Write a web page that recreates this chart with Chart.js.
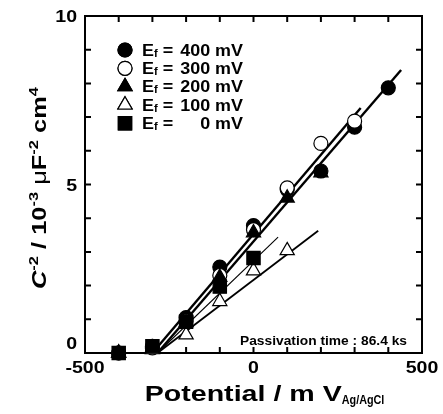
<!DOCTYPE html>
<html><head><meta charset="utf-8">
<script src="https://cdn.jsdelivr.net/npm/chart.js@4.4.1/dist/chart.umd.min.js"></script>
<style>html,body{margin:0;padding:0;background:#fff;}canvas{display:block;}</style>
</head><body>
<canvas id="c" width="443" height="414"></canvas>
<script>
// ---- data ----
const potentials = [-400, -300, -200, -100, 0, 100, 200, 300, 400];
const ef400 = [0, 0.2, 1.05, 2.55, 3.78, 4.85, 5.4, 6.7, 7.87];
const ef300 = [0, 0.15, 0.95, 2.3, 3.66, 4.9, 6.22, 6.88];
const ef200 = [0, 0.15, 0.9, 2.25, 3.57, 4.6, 5.35];
const ef100 = [0, 0.1, 0.54, 1.53, 2.44, 3.04];
const ef0 = [0, 0.2, 0.93, 1.97, 2.82];
const fit400X = [-285, 438], fit400Y = [0, 8.4];
const fit300X = [-300, 318], fit300Y = [0, 7.27];
const fit100X = [-285, 192], fit100Y = [0, 3.63];
const fit0X = [-285, 73], fit0Y = [0, 3.44];
const xTickLabels = [-500, 0, 500];
const yTickLabels = [0, 5, 10];
const xMinorTicks = [-500, -400, -300, -200, -100, 0, 100, 200, 300, 400, 500];
const yMinorTicks = [0, 1, 2, 3, 4, 5, 6, 7, 8, 9, 10];
const legendValues = ['400', '300', '200', '100', '0'];
const noteText = 'Passivation time : 86.4 ks';

function pts(xs, ys) { return ys.map((y, i) => ({ x: xs[i], y: y })); }

const FONT = '"Liberation Sans", Arial, Helvetica, sans-serif';

const markerStyles = [
  { style: 'circle', r: 7, fill: '#000' },
  { style: 'circle', r: 7, fill: '#fff' },
  { style: 'triangle', r: 8.2, fill: '#000' },
  { style: 'triangle', r: 8.2, fill: '#fff' },
  { style: 'rect', r: 9.4, fill: '#000' }
];
const seriesData = [ef400, ef300, ef200, ef100, ef0];

const datasets = [];
[[fit400X, fit400Y, 2.4], [fit300X, fit300Y, 2.4], [fit100X, fit100Y, 1.8], [fit0X, fit0Y, 1.1]].forEach((f, i) => {
  datasets.push({
    data: pts(f[0], f[1]), showLine: true, borderColor: '#000', borderWidth: f[2],
    pointRadius: 0, order: 20 + i, clip: false
  });
});
seriesData.forEach((s, i) => {
  const m = markerStyles[i];
  datasets.push({
    data: pts(potentials, s), showLine: false, pointStyle: m.style, pointRadius: m.r,
    pointBackgroundColor: m.fill, pointBorderColor: '#000', pointBorderWidth: 1.2,
    order: 10 - i, clip: false
  });
});

function drawStretched(ctx, s, x, y, font, sx) {
  ctx.font = font;
  const w = ctx.measureText(s).width * sx;
  ctx.save(); ctx.translate(x, y); ctx.scale(sx, 1); ctx.fillText(s, 0, 0); ctx.restore();
  return w;
}
function measureStretched(ctx, s, font, sx) { ctx.font = font; return ctx.measureText(s).width * sx; }
function drawRich(ctx, segs, x, y, sx) {
  let cx = x;
  segs.forEach(sg => { cx += drawStretched(ctx, sg.t, cx, y + (sg.dy || 0), sg.f, sx); });
  return cx - x;
}
function richWidth(ctx, segs, sx) { return segs.reduce((a, sg) => a + measureStretched(ctx, sg.t, sg.f, sx), 0); }

const decor = {
  id: 'decor',
  beforeDatasetsDraw(chart) {
    const ctx = chart.ctx, a = chart.chartArea, xs = chart.scales.x, ys = chart.scales.y;
    ctx.save();
    ctx.strokeStyle = '#000'; ctx.lineWidth = 2;
    ctx.strokeRect(a.left, a.top, a.right - a.left, a.bottom - a.top);
    ctx.beginPath();
    const tl = 6;
    xMinorTicks.forEach(v => {
      const px = xs.getPixelForValue(v);
      ctx.moveTo(px, a.bottom); ctx.lineTo(px, a.bottom - tl);
      ctx.moveTo(px, a.top); ctx.lineTo(px, a.top + tl);
    });
    yMinorTicks.forEach(v => {
      const py = ys.getPixelForValue(v);
      ctx.moveTo(a.left, py); ctx.lineTo(a.left + tl, py);
      ctx.moveTo(a.right, py); ctx.lineTo(a.right - tl, py);
    });
    ctx.stroke();
    ctx.restore();
  },
  afterDraw(chart) {
    const ctx = chart.ctx, a = chart.chartArea, xs = chart.scales.x, ys = chart.scales.y;
    ctx.save();
    ctx.fillStyle = '#000';
    ctx.textBaseline = 'alphabetic';
    const tickFont = 'bold 17px ' + FONT, tsx = 1.15, cap = 12.2;
    yTickLabels.forEach(v => {
      const s = String(v);
      const w = measureStretched(ctx, s, tickFont, tsx);
      let cy = ys.getPixelForValue(v);
      cy = Math.min(cy, a.bottom - 10);
      drawStretched(ctx, s, a.left - 8 - w, cy + cap / 2, tickFont, tsx);
    });
    xTickLabels.forEach(v => {
      const s = String(v);
      const w = measureStretched(ctx, s, tickFont, tsx);
      const cx = xs.getPixelForValue(v);
      drawStretched(ctx, s, cx - w / 2, a.bottom + 20, tickFont, tsx);
    });
    // x title
    const mainT = 'Potential / m V', mainF = 'bold 22px ' + FONT, msx = 1.3;
    const subT = 'Ag/AgCl', subF = 'bold 12px ' + FONT, ssx = 0.9;
    const mainW = measureStretched(ctx, mainT, mainF, msx);
    const subW = measureStretched(ctx, subT, subF, ssx);
    const x0 = (a.left + a.right) / 2 + 11 - (mainW + subW) / 2;
    drawStretched(ctx, mainT, x0, 401, mainF, msx);
    drawStretched(ctx, subT, x0 + mainW, 404, subF, ssx);
    // y title (rotated)
    const yt = [
      { t: 'C', f: 'italic bold 20px ' + FONT },
      { t: '-2', f: 'bold 13px ' + FONT, dy: -8 },
      { t: ' / 10', f: 'bold 20px ' + FONT },
      { t: '-3', f: 'bold 13px ' + FONT, dy: -8 },
      { t: ' \u03bc', f: '20px ' + FONT },
      { t: 'F', f: 'bold 20px ' + FONT },
      { t: '-2', f: 'bold 13px ' + FONT, dy: -8 },
      { t: ' cm', f: 'bold 20px ' + FONT },
      { t: '4', f: 'bold 13px ' + FONT, dy: -8 }
    ];
    const ysx = 1.27;
    const yw = richWidth(ctx, yt, ysx);
    ctx.save();
    ctx.translate(46, 188);
    ctx.rotate(-Math.PI / 2);
    drawRich(ctx, yt, -yw / 2, 0, ysx);
    ctx.restore();
    // legend
    const lf = 'bold 16px ' + FONT, lsx = 1.12;
    const rowY0 = 50, rowDy = 18.3, mx = 125, tx = 142, rightX = 243;
    legendValues.forEach((v, i) => {
      const cy = rowY0 + i * rowDy;
      const m = markerStyles[i];
      ctx.save();
      ctx.fillStyle = m.fill; ctx.strokeStyle = '#000'; ctx.lineWidth = 1.2;
      Chart.helpers.drawPoint(ctx, { pointStyle: m.style, radius: m.r, borderWidth: 1.2 }, mx, cy);
      ctx.fill(); ctx.stroke();
      ctx.restore();
      const base = cy + 5.7;
      let cx = tx;
      cx += drawStretched(ctx, 'E', cx, base, lf, lsx);
      cx += drawStretched(ctx, 'f', cx, base + 1, 'bold 10px ' + FONT, lsx);
      drawStretched(ctx, ' =', cx, base, lf, lsx);
      const num = v + ' mV';
      const nw = measureStretched(ctx, num, lf, lsx);
      drawStretched(ctx, num, rightX - nw, base, lf, lsx);
    });
    drawStretched(ctx, noteText, 240, 345, 'bold 13px ' + FONT, 1.06);
    ctx.restore();
  }
};

new Chart(document.getElementById('c'), {
  type: 'scatter',
  data: { datasets: datasets },
  options: {
    responsive: false,
    devicePixelRatio: 1,
    animation: false,
    layout: { padding: { top: 16, right: 21, left: 0, bottom: 0 } },
    plugins: { legend: { display: false }, tooltip: { enabled: false } },
    scales: {
      x: {
        type: 'linear', min: -500, max: 500,
        grid: { display: false }, border: { display: false },
        ticks: { display: false, stepSize: 500 },
        afterFit(s) { s.height = 61; }
      },
      y: {
        type: 'linear', min: 0, max: 10,
        grid: { display: false }, border: { display: false },
        ticks: { display: false, stepSize: 5 },
        afterFit(s) { s.width = 85; }
      }
    }
  },
  plugins: [decor]
});
</script>
</body></html>
